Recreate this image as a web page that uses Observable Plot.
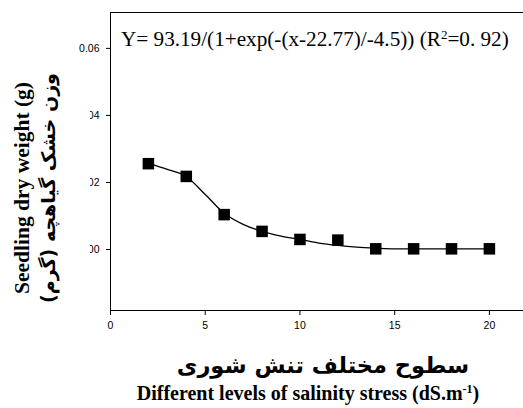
<!DOCTYPE html>
<html>
<head>
<meta charset="utf-8">
<script src="https://cdn.jsdelivr.net/npm/d3@7"></script>
<script src="https://cdn.jsdelivr.net/npm/@observablehq/plot@0.6"></script>
<style>
  body { margin: 0; background: #fff; }
  #wrap { position: relative; width: 523px; height: 408px; overflow: hidden; background: #fff; }
  #chart { position: absolute; left: 0; top: 0; }
  .eq { position: absolute; left: 121px; top: 27px; font: 21.2px "Liberation Serif", serif; white-space: nowrap; color: #000; }
  .eq sup { font-size: 13px; vertical-align: 7px; line-height: 0; }
  .ytitle { position: absolute; width: 250px; height: 90px; left: -80px; top: 143px; transform: rotate(-90deg); transform-origin: 50% 50%; background: #fff; box-sizing: border-box; padding-top: 9px; text-align: center; }
  .ytitle .en { font-family: "Liberation Serif", "Times New Roman", serif; font-weight: bold; font-size: 21.5px; line-height: 26px; white-space: nowrap; }
  .ytitle .fa { font: bold 19px/26px "DejaVu Sans", sans-serif; white-space: nowrap; direction: rtl; }
  .xfa { position: absolute; left: 0; width: 646px; top: 352px; height: 26px; text-align: center; font: bold 22.5px/26px "DejaVu Sans", sans-serif; direction: rtl; white-space: nowrap; }
  .xen { position: absolute; left: 0; width: 616px; top: 381px; height: 24px; text-align: center; font: bold 20px/24px "Liberation Serif", serif; white-space: nowrap; }
  .xen sup { font-size: 12px; vertical-align: 7px; line-height: 0; }
</style>
</head>
<body>
<div id="wrap">
  <div id="chart"></div>
  <div class="eq">Y= 93.19/(1+exp(-(x-22.77)/-4.5)) (R<sup>2</sup>=0. 92)</div>
  <div class="ytitle"><div class="en">Seedling dry weight (g)</div><div class="fa">وزن خشک گیاهچه (گرم)</div></div>
  <div class="xfa">سطوح مختلف تنش شوری</div>
  <div class="xen">Different levels of salinity stress (dS.m<sup>-1</sup>)</div>
</div>
<script>
// Observed points
const salinity = [2, 4, 6, 8, 10, 12, 14, 16, 18, 20];
const dryWeight = [0.0256, 0.0218, 0.0104, 0.0054, 0.0030, 0.0028, 0.0002, 0.0002, 0.0002, 0.0002];
// Fitted curve
const fitX = [2, 3, 4, 5, 6, 7, 8, 9, 10, 11, 12, 13, 14, 15, 16, 18, 20];
const fitY = [0.0257, 0.0239, 0.0218, 0.0164, 0.0108, 0.0075, 0.0054, 0.0040, 0.0030, 0.0019, 0.0012, 0.0007, 0.0004, 0.0002, 0.0002, 0.0002, 0.0002];
// Axes
const xTicks = [0, 5, 10, 15, 20];
const yTicks = [0.00, 0.02, 0.04, 0.06];
const xDomain = [0, 21.8];
const yDomain = [-0.0182, 0.0707];

const points = salinity.map((x, i) => ({x, y: dryWeight[i]}));
const fit = fitX.map((x, i) => ({x, y: fitY[i]}));

const chart = Plot.plot({
  width: 523,
  height: 340,
  marginLeft: 110,
  marginRight: 0,
  marginTop: 12,
  marginBottom: 30,
  style: {fontFamily: "'Liberation Sans', Arial, sans-serif", fontSize: "10.5px", color: "#000", background: "transparent"},
  x: {domain: xDomain, ticks: xTicks, tickSize: 5, tickPadding: 6, label: null},
  y: {domain: yDomain, ticks: yTicks, tickFormat: d3.format(".2f"), tickSize: 4, tickPadding: 7, label: null},
  marks: [
    Plot.frame({anchor: "top", stroke: "#000"}),
    Plot.frame({anchor: "left", stroke: "#000"}),
    Plot.frame({anchor: "bottom", stroke: "#000"}),
    Plot.line(fit, {x: "x", y: "y", curve: "monotone-x", stroke: "#000", strokeWidth: 1.3}),
    Plot.dot(points, {x: "x", y: "y", symbol: "square", r: 6.5, fill: "#000", stroke: "none"})
  ]
});
document.getElementById("chart").appendChild(chart);
</script>
</body>
</html>
